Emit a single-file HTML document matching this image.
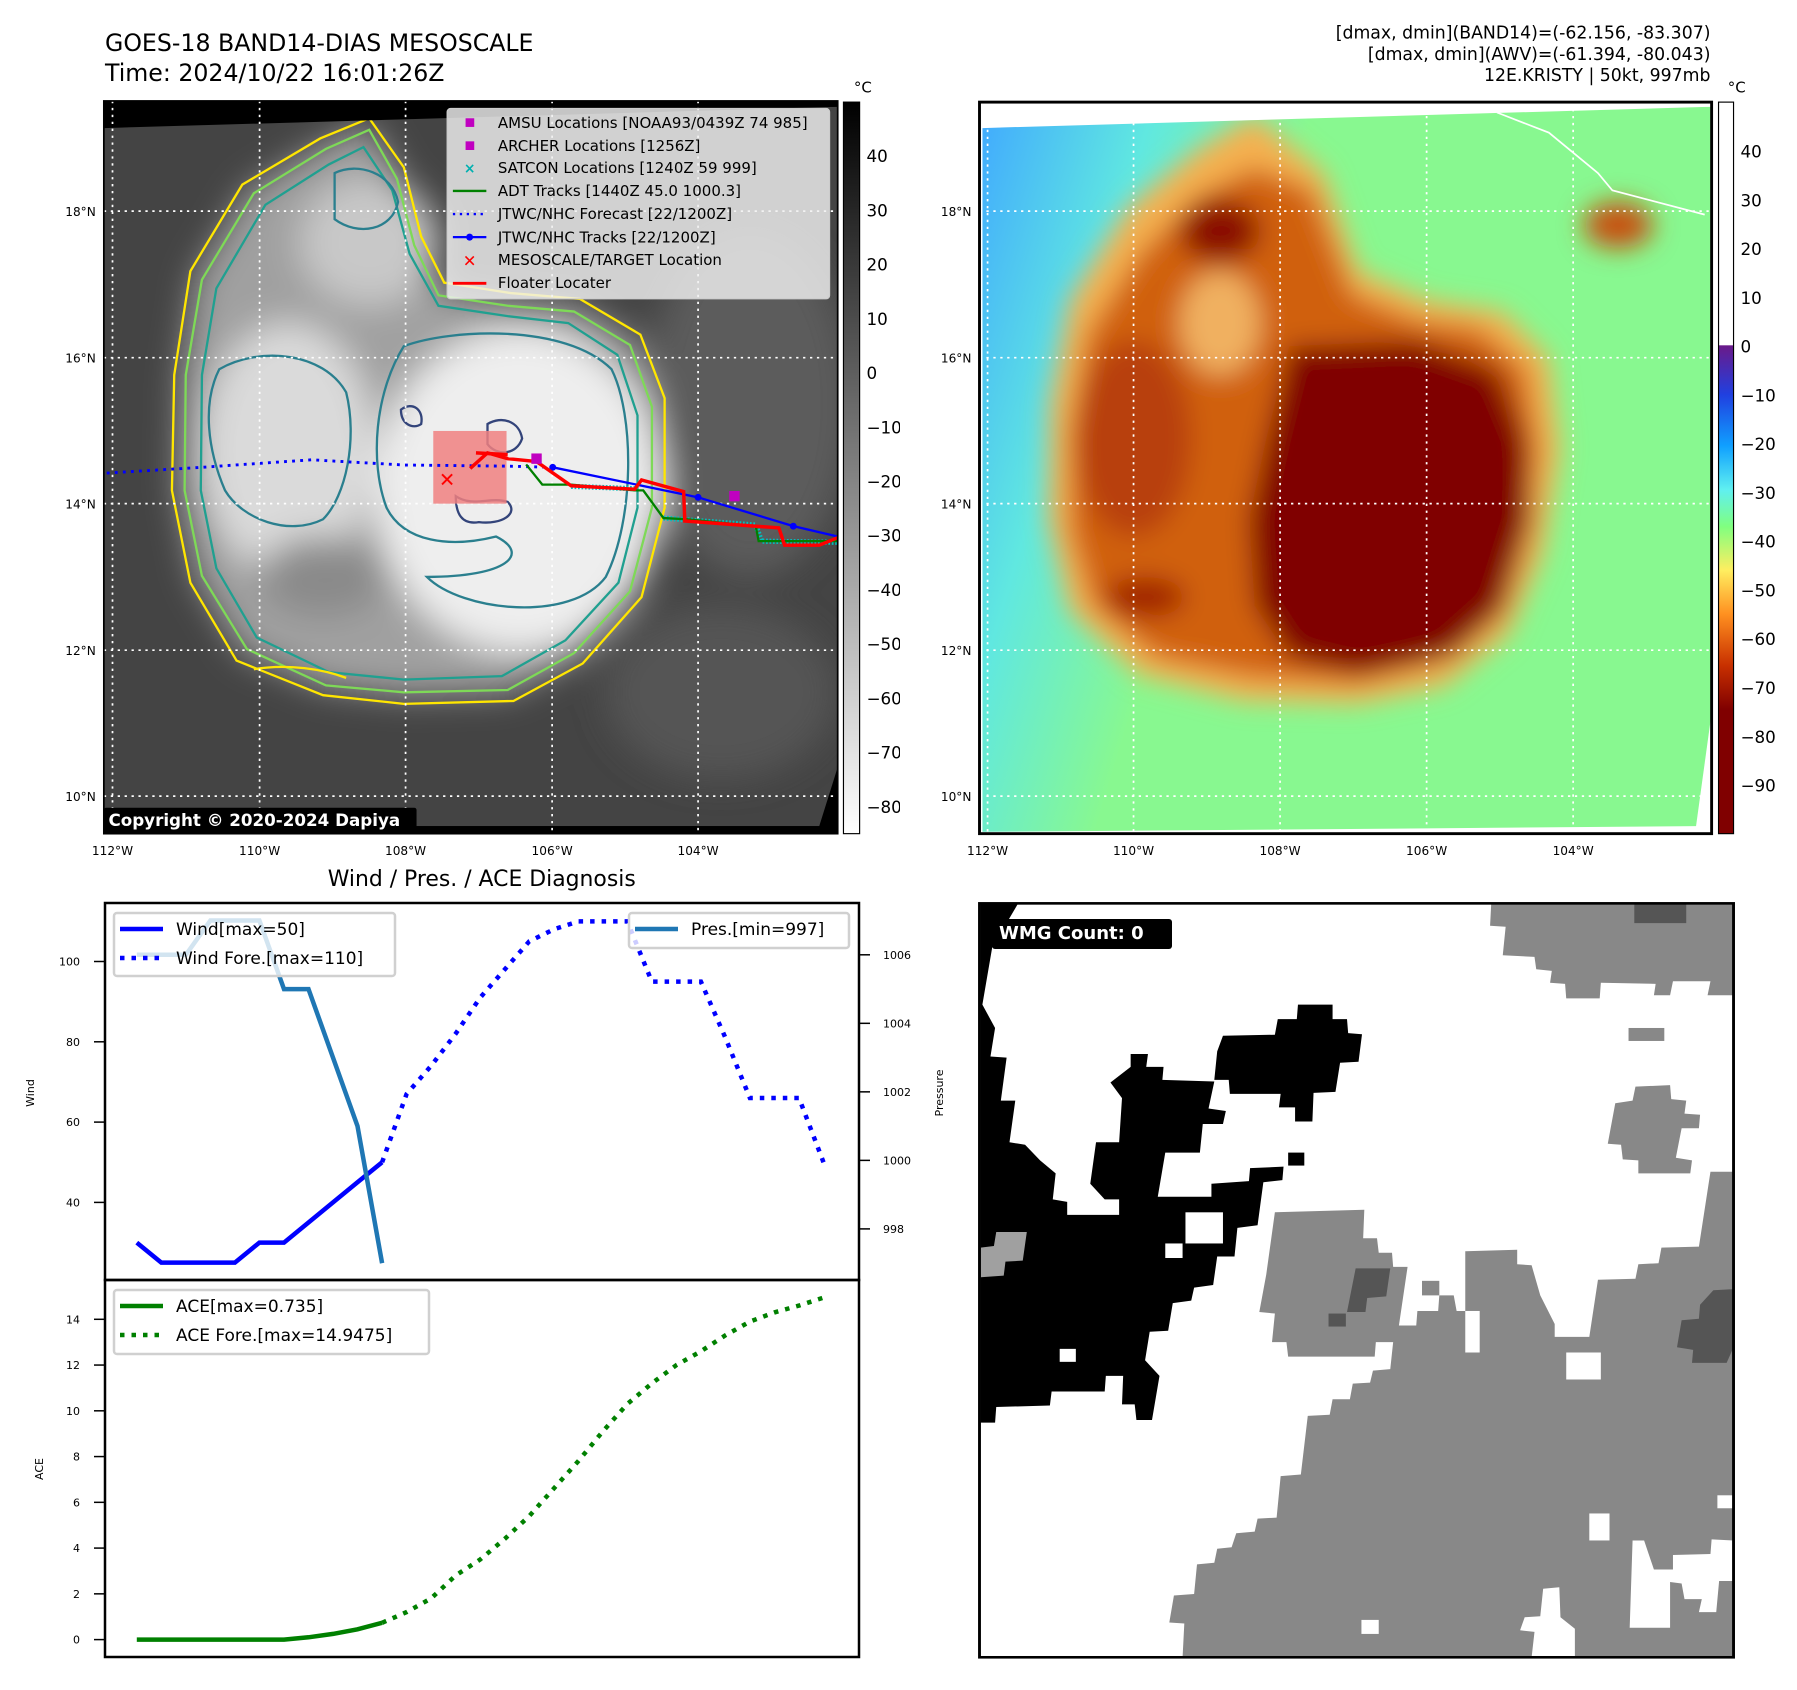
<!DOCTYPE html>
<html><head><meta charset="utf-8">
<style>
html,body{margin:0;padding:0;background:#fff;}
#root{position:relative;width:1797px;height:1690px;overflow:hidden;background:#fff;font-family:"Liberation Sans","DejaVu Sans",sans-serif;}
svg{position:absolute;display:block;}
text{font-family:"DejaVu Sans","Liberation Sans",sans-serif;}
</style></head>
<body>
<div id="root">

<!-- LEFT MAP (zoom coords 1560 = 900px) -->
<svg style="left:0;top:0" width="900" height="900" viewBox="0 0 1560 1560">
 <defs>
  <filter id="bl" x="-20%" y="-20%" width="140%" height="140%"><feGaussianBlur stdDeviation="30"/></filter>
  <clipPath id="mc"><polygon points="180,222 1452,185 1452,1330 1420,1432 180,1432"/></clipPath>
  <linearGradient id="cbg" x1="0" y1="0" x2="0" y2="1"><stop offset="0" stop-color="#000"/><stop offset="1" stop-color="#fff"/></linearGradient>
 </defs>
 <text x="182" y="88" font-size="41">GOES-18 BAND14-DIAS MESOSCALE</text>
 <text x="182" y="140" font-size="41">Time: 2024/10/22 16:01:26Z</text>
 <rect x="180" y="175" width="1272" height="1270" fill="#000"/>
 <g clip-path="url(#mc)">
  <rect x="180" y="180" width="1280" height="1260" fill="#444"/>
  <g filter="url(#bl)">
   <ellipse cx="1300" cy="700" rx="180" ry="300" fill="#5c5c5c"/>
   <ellipse cx="1250" cy="1200" rx="200" ry="150" fill="#555"/>
   <path d="M640,215 L560,250 430,330 340,480 315,650 310,850 340,1000 420,1130 560,1190 700,1205 880,1200 1000,1140 1100,1030 1140,880 1140,700 1100,590 1000,530 880,520 760,500 720,420 690,300 Z" fill="#a0a0a0"/>
   <ellipse cx="900" cy="850" rx="250" ry="280" fill="#eeeeee"/>
   <ellipse cx="500" cy="780" rx="150" ry="220" fill="#dadada"/>
   <ellipse cx="640" cy="420" rx="120" ry="110" fill="#c8c8c8"/>
   <ellipse cx="560" cy="1000" rx="110" ry="70" fill="#8a8a8a"/>
  </g>
  <g fill="none" stroke-width="4">
   <path d="M640,205 L555,240 420,320 330,470 302,650 298,850 330,1010 410,1145 560,1205 700,1220 890,1215 1010,1150 1112,1035 1152,880 1152,690 1110,580 1005,518 885,508 770,490 730,410 700,290 Z" stroke="#ffe600"/>
   <path d="M640,225 L565,258 440,335 350,485 322,650 320,850 350,998 428,1125 565,1188 700,1200 880,1196 995,1132 1092,1025 1130,880 1130,705 1092,598 995,540 880,530 760,512 718,425 688,310 Z" stroke="#7ed957"/>
   <path d="M630,255 L570,285 460,355 375,500 350,650 348,850 375,985 445,1105 570,1165 700,1178 870,1172 980,1110 1072,1010 1105,880 1105,720 1070,615 985,560 880,548 760,530 710,440 680,330 Z" stroke="#20a090"/>
   <path d="M700,600 C780,570 980,560 1060,640 C1100,720 1100,900 1050,1000 C990,1080 800,1060 740,1000 C880,1000 920,960 860,930 C780,950 700,940 670,880 C640,800 650,680 700,600 Z" stroke="#2a7f8e"/>
   <path d="M380,640 C450,600 560,610 600,680 C620,760 600,860 560,900 C500,930 420,900 390,850 C360,780 350,700 380,640 Z" stroke="#2a7f8e"/>
   <path d="M580,300 C620,280 680,300 690,350 C680,400 620,410 580,380 Z" stroke="#2a7f8e"/>
   <path d="M845,735 C870,720 900,730 905,760 C895,790 860,790 845,770 Z" stroke="#33447a"/>
   <path d="M695,710 C715,695 735,710 730,735 C715,745 695,735 695,710 Z" stroke="#33447a"/>
   <path d="M790,860 C820,880 850,860 880,870 C900,890 870,910 830,905 C800,910 790,890 790,860 Z" stroke="#33447a"/>
   <path d="M440,1160 C500,1150 560,1160 600,1175" stroke="#ffe600"/>
  </g>
 </g>
 <g stroke="#fff" stroke-width="3" stroke-dasharray="4,8" fill="none">
  <line x1="195" y1="175" x2="195" y2="1445"/><line x1="450" y1="175" x2="450" y2="1445"/><line x1="703" y1="175" x2="703" y2="1445"/><line x1="957" y1="175" x2="957" y2="1445"/><line x1="1210" y1="175" x2="1210" y2="1445"/>
  <line x1="180" y1="366" x2="1452" y2="366"/><line x1="180" y1="620" x2="1452" y2="620"/><line x1="180" y1="873" x2="1452" y2="873"/><line x1="180" y1="1127" x2="1452" y2="1127"/><line x1="180" y1="1380" x2="1452" y2="1380"/>
 </g>
 <rect x="751" y="747" width="127" height="126" fill="#f08080" opacity="0.85"/>
 <polyline points="185,820 350,810 540,797 700,806 880,808 958,810" fill="none" stroke="#0000ff" stroke-width="5" stroke-dasharray="5,9"/>
 <polyline points="990,843 1100,847" fill="none" stroke="#00c0c0" stroke-width="9" stroke-dasharray="3,3"/>
 <polyline points="1150,898 1310,910 1320,938 1452,940" fill="none" stroke="#00c0c0" stroke-width="9" stroke-dasharray="3,3"/>
 <polyline points="912,805 940,840 990,840 1100,850 1115,850 1150,898 1190,900 1310,912 1315,938 1452,938" fill="none" stroke="#008000" stroke-width="4"/>
 <polyline points="958,810 1210,862 1375,912 1452,930" fill="none" stroke="#0000ff" stroke-width="4"/>
 <g fill="#0000ff"><circle cx="958" cy="810" r="6"/><circle cx="1210" cy="862" r="6"/><circle cx="1375" cy="912" r="6"/></g>
 <polyline points="815,812 845,785 880,795 930,800 990,842 1100,848 1112,832 1185,852 1187,903 1350,915 1360,945 1420,945 1452,932" fill="none" stroke="#ff0000" stroke-width="6"/>
 <line x1="825" y1="785" x2="880" y2="788" stroke="#ff0000" stroke-width="6"/>
 <text x="775" y="843" font-size="34" fill="#ff0000" font-weight="bold" text-anchor="middle">✕</text>
 <rect x="921" y="786" width="18" height="18" fill="#c000c0"/><rect x="1264" y="851" width="18" height="18" fill="#c000c0"/>
 <g>
  <rect x="775" y="188" width="663" height="330" fill="#f0f0f0" fill-opacity="0.82" stroke="#ccc" stroke-width="2" rx="6"/>
  <g font-size="26">
   <rect x="807" y="205" width="15" height="15" fill="#c000c0"/><text x="863" y="222">AMSU Locations [NOAA93/0439Z 74 985]</text>
   <rect x="807" y="245" width="15" height="15" fill="#c000c0"/><text x="863" y="262">ARCHER Locations [1256Z]</text>
   <text x="814" y="300" fill="#00b0b0" font-size="24" text-anchor="middle" font-weight="bold">×</text><text x="863" y="300">SATCON Locations [1240Z 59 999]</text>
   <line x1="785" y1="331" x2="843" y2="331" stroke="#008000" stroke-width="4"/><text x="863" y="340">ADT Tracks [1440Z 45.0 1000.3]</text>
   <line x1="785" y1="371" x2="843" y2="371" stroke="#0000ff" stroke-width="4" stroke-dasharray="4,8"/><text x="863" y="380">JTWC/NHC Forecast [22/1200Z]</text>
   <line x1="785" y1="411" x2="843" y2="411" stroke="#0000ff" stroke-width="4"/><circle cx="814" cy="411" r="6" fill="#0000ff"/><text x="863" y="420">JTWC/NHC Tracks [22/1200Z]</text>
   <text x="814" y="462" fill="#ff0000" font-size="28" text-anchor="middle" font-weight="bold">✕</text><text x="863" y="459">MESOSCALE/TARGET Location</text>
   <line x1="785" y1="491" x2="843" y2="491" stroke="#ff0000" stroke-width="5"/><text x="863" y="499">Floater Locater</text>
  </g>
 </g>
 <rect x="180" y="175" width="1272" height="1270" fill="none" stroke="#000" stroke-width="3"/>
 <rect x="180" y="1400" width="542" height="45" fill="#000" rx="4"/>
 <text x="188" y="1432" font-size="29" font-weight="bold" fill="#fff">Copyright © 2020-2024 Dapiya</text>
 <g font-size="21" text-anchor="end">
  <text x="166" y="374">18°N</text><text x="166" y="628">16°N</text><text x="166" y="881">14°N</text><text x="166" y="1135">12°N</text><text x="166" y="1388">10°N</text>
 </g>
 <g font-size="21" text-anchor="middle">
  <text x="195" y="1482">112°W</text><text x="450" y="1482">110°W</text><text x="703" y="1482">108°W</text><text x="957" y="1482">106°W</text><text x="1210" y="1482">104°W</text>
 </g>
 <rect x="1462" y="177" width="28" height="1268" fill="url(#cbg)" stroke="#000" stroke-width="2"/>
 <text x="1480" y="160" font-size="26">°C</text>
 <g font-size="29">
  <text x="1502" y="281">40</text><text x="1502" y="375">30</text><text x="1502" y="469">20</text><text x="1502" y="563">10</text><text x="1502" y="657">0</text>
  <text x="1502" y="751">−10</text><text x="1502" y="845">−20</text><text x="1502" y="939">−30</text><text x="1502" y="1033">−40</text><text x="1502" y="1127">−50</text><text x="1502" y="1221">−60</text><text x="1502" y="1315">−70</text><text x="1502" y="1409">−80</text>
 </g>
 <text x="835" y="1536" font-size="38" text-anchor="middle">Wind / Pres. / ACE Diagnosis</text>
</svg>

<!-- RIGHT MAP (offset 897) -->
<svg style="left:897px;top:0" width="900" height="900" viewBox="0 0 1560 1560">
 <defs>
  <filter id="rb" x="-20%" y="-20%" width="140%" height="140%"><feGaussianBlur stdDeviation="22"/></filter>
  <clipPath id="rc"><polygon points="148,222 1410,185 1410,1250 1385,1432 148,1442"/></clipPath>
  <linearGradient id="lg" x1="0" y1="0" x2="1" y2="0.3"><stop offset="0" stop-color="#40a8ff"/><stop offset="0.22" stop-color="#60e8e0"/><stop offset="0.42" stop-color="#88f890"/><stop offset="1" stop-color="#88f890"/></linearGradient>
  <linearGradient id="cb2" x1="0" y1="0" x2="0" y2="1">
   <stop offset="0" stop-color="#fff"/><stop offset="0.332" stop-color="#fff"/><stop offset="0.333" stop-color="#6a1a8a"/>
   <stop offset="0.40" stop-color="#2040e0"/><stop offset="0.47" stop-color="#10a0ff"/><stop offset="0.53" stop-color="#60f0f0"/>
   <stop offset="0.58" stop-color="#80ff80"/><stop offset="0.64" stop-color="#ffee60"/><stop offset="0.70" stop-color="#ff9020"/>
   <stop offset="0.77" stop-color="#c83000"/><stop offset="0.83" stop-color="#800000"/><stop offset="1" stop-color="#800000"/>
  </linearGradient>
 </defs>
 <g font-size="30" text-anchor="end">
  <text x="1410" y="67">[dmax, dmin](BAND14)=(-62.156, -83.307)</text>
  <text x="1410" y="104">[dmax, dmin](AWV)=(-61.394, -80.043)</text>
  <text x="1410" y="140">12E.KRISTY | 50kt, 997mb</text>
 </g>
 <rect x="143" y="177" width="1269" height="1268" fill="#fff"/>
 <g clip-path="url(#rc)">
  <rect x="140" y="180" width="1280" height="1270" fill="url(#lg)"/>
  <g filter="url(#rb)">
   <path d="M620,200 L520,260 400,360 300,520 265,700 262,900 300,1060 420,1170 600,1215 800,1220 950,1190 1060,1100 1120,960 1150,780 1130,620 1050,540 920,520 800,470 740,300 Z" fill="#f5b050"/>
   <path d="M620,290 L520,340 420,440 330,580 300,750 300,920 340,1050 450,1140 620,1175 800,1185 930,1150 1030,1070 1090,930 1110,780 1090,640 1010,570 900,555 790,510 720,330 Z" fill="#d06010"/>
   <path d="M680,600 L900,590 1040,640 1090,760 1100,900 1050,1060 960,1140 800,1170 680,1140 620,1050 610,900 640,760 Z" fill="#800000"/>
   <ellipse cx="560" cy="400" rx="70" ry="55" fill="#8a0a00"/>
   <ellipse cx="410" cy="760" rx="100" ry="170" fill="#b84010"/>
   <ellipse cx="430" cy="1035" rx="70" ry="35" fill="#a02000"/>
   <ellipse cx="1250" cy="390" rx="60" ry="40" fill="#c85010"/>
   <ellipse cx="560" cy="560" rx="70" ry="90" fill="#f0b060"/>
  </g>
 </g>
 <g stroke="#fff" stroke-width="3" stroke-dasharray="4,8" fill="none">
  <line x1="157" y1="177" x2="157" y2="1445"/><line x1="410" y1="177" x2="410" y2="1445"/><line x1="664" y1="177" x2="664" y2="1445"/><line x1="918" y1="177" x2="918" y2="1445"/><line x1="1172" y1="177" x2="1172" y2="1445"/>
  <line x1="143" y1="366" x2="1412" y2="366"/><line x1="143" y1="620" x2="1412" y2="620"/><line x1="143" y1="873" x2="1412" y2="873"/><line x1="143" y1="1127" x2="1412" y2="1127"/><line x1="143" y1="1380" x2="1412" y2="1380"/>
 </g>
 <polyline points="1040,195 1130,230 1215,300 1240,330 1400,372" fill="none" stroke="#fff" stroke-width="3"/>
 <rect x="143" y="177" width="1269" height="1268" fill="none" stroke="#000" stroke-width="5"/>
 <g font-size="21" text-anchor="end">
  <text x="129" y="374">18°N</text><text x="129" y="628">16°N</text><text x="129" y="881">14°N</text><text x="129" y="1135">12°N</text><text x="129" y="1388">10°N</text>
 </g>
 <g font-size="21" text-anchor="middle">
  <text x="157" y="1482">112°W</text><text x="410" y="1482">110°W</text><text x="664" y="1482">108°W</text><text x="918" y="1482">106°W</text><text x="1172" y="1482">104°W</text>
 </g>
 <rect x="1424" y="177" width="26" height="1268" fill="url(#cb2)" stroke="#000" stroke-width="2"/>
 <text x="1440" y="160" font-size="26">°C</text>
 <g font-size="29">
  <text x="1462" y="273">40</text><text x="1462" y="358">30</text><text x="1462" y="442">20</text><text x="1462" y="527">10</text><text x="1462" y="611">0</text>
  <text x="1462" y="696">−10</text><text x="1462" y="780">−20</text><text x="1462" y="865">−30</text><text x="1462" y="949">−40</text><text x="1462" y="1034">−50</text><text x="1462" y="1118">−60</text><text x="1462" y="1203">−70</text><text x="1462" y="1288">−80</text><text x="1462" y="1372">−90</text>
 </g>
</svg>

<!-- WMG panel -->
<svg style="left:897px;top:880px" width="900" height="810" viewBox="0 0 1560 1560" preserveAspectRatio="none">
 <rect x="143" y="45" width="1307" height="1452" fill="#fff"/>
 <g fill="#888888">
  <polygon points="1030,45 1450,45 1450,222 1405,222 1410,195 1345,195 1340,222 1312,222 1315,200 1220,198 1218,228 1160,228 1158,200 1132,198 1135,175 1108,172 1105,148 1050,145 1055,90 1028,88"/>
  <rect x="1268" y="285" width="62" height="25"/>
  <polygon points="1280,398 1340,395 1342,422 1368,425 1365,450 1392,452 1390,478 1360,478 1350,535 1378,540 1375,565 1285,565 1285,540 1258,538 1255,510 1232,508 1245,430 1275,425"/>
  <polygon points="1410,562 1450,562 1450,1497 495,1497 498,1432 472,1430 480,1378 515,1375 520,1318 550,1315 555,1288 580,1285 588,1258 620,1255 625,1230 658,1228 665,1148 700,1145 712,1032 750,1030 755,1000 785,1000 790,970 820,968 825,945 855,942 860,890 830,890 828,918 678,918 675,890 650,890 655,835 628,832 640,760 655,640 810,635 808,690 832,690 835,718 858,718 860,745 885,745 870,858 900,858 902,830 938,830 940,800 965,800 970,830 985,830 985,715 1075,712 1075,740 1100,742 1115,800 1140,855 1140,880 1200,880 1215,770 1280,768 1285,740 1320,738 1325,708 1390,706"/>
  <rect x="910" y="772" width="30" height="28"/>
 </g>
 <g fill="#fff">
  <rect x="1160" y="910" width="60" height="52"/><rect x="1200" y="1220" width="35" height="52"/><rect x="805" y="1425" width="30" height="27"/><rect x="1422" y="1185" width="28" height="25"/><rect x="985" y="830" width="25" height="80"/>
  <polygon points="1275,1272 1295,1272 1312,1328 1345,1328 1345,1300 1410,1298 1412,1270 1450,1272 1450,1350 1425,1350 1420,1410 1390,1410 1395,1385 1365,1385 1360,1355 1340,1352 1340,1440 1270,1440"/>
  <polygon points="1080,1445 1088,1420 1115,1418 1120,1365 1148,1362 1150,1420 1175,1442 1175,1497 1100,1497 1105,1448"/>
 </g>
 <g fill="#555">
  <rect x="1278" y="45" width="90" height="38"/>
  <polygon points="795,748 855,748 848,802 815,805 812,832 780,832"/>
  <rect x="748" y="835" width="30" height="25"/>
  <polygon points="1415,790 1450,788 1450,900 1438,930 1378,930 1380,905 1352,900 1360,848 1390,845 1392,818"/>
 </g>
 <g fill="#000">
  <polygon points="145,45 210,45 165,130 148,240 170,285 162,340 190,342 180,425 205,425 195,505 222,510 248,540 275,565 270,615 295,620 295,645 385,645 385,615 360,615 335,585 345,505 385,505 390,420 370,390 405,360 405,335 435,335 432,360 462,360 460,385 550,388 540,440 570,445 565,470 530,470 525,525 465,525 452,610 545,610 545,585 610,580 612,555 670,552 668,578 635,582 625,665 590,670 585,725 555,725 548,780 515,785 510,810 478,815 470,868 438,870 430,925 455,955 442,1040 415,1040 412,1010 390,1010 392,955 362,955 360,985 268,985 265,1012 172,1015 170,1045 145,1045"/>
  <polygon points="565,300 655,298 660,268 693,268 695,240 755,240 755,268 780,268 782,295 806,297 800,350 768,352 760,408 722,410 720,465 690,465 690,438 662,438 665,412 577,412 575,385 550,385 555,330"/>
  <rect x="678" y="525" width="28" height="25"/>
 </g>
 <g fill="#fff"><rect x="500" y="640" width="65" height="60"/><rect x="465" y="700" width="30" height="28"/><rect x="282" y="903" width="28" height="25"/></g>
 <polygon points="145,708 168,705 172,678 225,678 218,733 188,735 185,762 145,765" fill="#a0a0a0"/>
 <rect x="143" y="45" width="1307" height="1452" fill="none" stroke="#000" stroke-width="5"/>
</svg>
<div style="position:absolute;left:992px;top:919px;width:180px;height:30px;background:#000;border-radius:3px;color:#fff;font:bold 18px 'DejaVu Sans','Liberation Sans',sans-serif;line-height:30px;padding-left:7px;box-sizing:border-box;">WMG Count: 0</div>

<!-- CHARTS -->
<svg id="charts" style="left:0;top:0" width="1797" height="1690"></svg>

<script>
const obsIdx=[0,1,2,3,4,5,6,7,8,9,10];
const windObs=[30,25,25,25,25,30,30,35,40,45,50];
const foreIdx=[10,11,12,13,14,15,16,17,18,19,20,21,22,23,24,25,26,27,28];
const windFore=[50,67,74,82,91,98,105,108,110,110,110,95,95,95,81,66,66,66,50];
const presObs=[1006,1006,1006,1007,1007,1007,1005,1005,1003,1001,997];
const aceObs=[0,0,0,0,0,0,0,0.1,0.25,0.45,0.735];
const aceFore=[0.735,1.2,1.8,2.8,3.5,4.4,5.4,6.6,7.8,9.1,10.3,11.2,12.0,12.6,13.3,13.9,14.3,14.6,14.95];
const windTicks=[40,60,80,100];
const presTicks=[998,1000,1002,1004,1006];
const aceTicks=[0,2,4,6,8,10,12,14];

const NS='http://www.w3.org/2000/svg';
const svg=document.getElementById('charts');
const xS=i=>136.8+i*(823.5-136.8)/28;
const yW=v=>961.5+(100-v)*(1202.4-961.5)/60;
const yP=p=>954.8+(1006-p)*(1228.9-954.8)/8;
const yA=a=>1639.6-a*(1639.6-1319.3)/14;
function el(t,a,txt){const e=document.createElementNS(NS,t);for(const k in a)e.setAttribute(k,a[k]);if(txt!==undefined)e.textContent=txt;svg.appendChild(e);return e;}
function pts(xs,ys,fy){return xs.map((x,i)=>xS(x).toFixed(1)+','+fy(ys[i]).toFixed(1)).join(' ');}

let f1=el('rect',{x:105,y:903,width:754,height:377,fill:'none',stroke:'#000','stroke-width':2.5});


let f2=el('rect',{x:105,y:1280,width:754,height:377,fill:'none',stroke:'#000','stroke-width':2.5});



windTicks.forEach(v=>{const y=yW(v);el('line',{x1:94,y1:y,x2:105,y2:y,stroke:'#000','stroke-width':1.5});
 const t=el('text',{x:80,y:y+4,'font-size':11,'text-anchor':'end'},String(v));
 
 });
presTicks.forEach(v=>{const y=yP(v);el('line',{x1:859,y1:y,x2:870,y2:y,stroke:'#000','stroke-width':1.5});
 const t=el('text',{x:883,y:y+4,'font-size':11},String(v));
 
 });
aceTicks.forEach(v=>{const y=yA(v);el('line',{x1:94,y1:y,x2:105,y2:y,stroke:'#000','stroke-width':1.5});
 const t=el('text',{x:80,y:y+4,'font-size':11,'text-anchor':'end'},String(v));
 
 });
let l1=el('text',{x:0,y:0,'font-size':11,'text-anchor':'middle',transform:'translate(34,1093) rotate(-90)'},'Wind');


let l2=el('text',{x:0,y:0,'font-size':11,'text-anchor':'middle',transform:'translate(943,1093) rotate(-90)'},'Pressure');


let l3=el('text',{x:0,y:0,'font-size':11,'text-anchor':'middle',transform:'translate(43,1469) rotate(-90)'},'ACE');



let s1=el('polyline',{points:pts(obsIdx,windObs,yW),fill:'none',stroke:'#0000ff','stroke-width':4.5});


let s2=el('polyline',{points:pts(foreIdx,windFore,yW),fill:'none',stroke:'#0000ff','stroke-width':4.5,'stroke-dasharray':'4.5,7'});


let s3=el('polyline',{points:pts(obsIdx,presObs,yP),fill:'none',stroke:'#1f77b4','stroke-width':4.5});


let s4=el('polyline',{points:pts(obsIdx,aceObs,yA),fill:'none',stroke:'#008000','stroke-width':4.5});


let s5=el('polyline',{points:pts(foreIdx,aceFore,yA),fill:'none',stroke:'#008000','stroke-width':4.5,'stroke-dasharray':'4.5,7'});



function legend(name,x,y,w,h,items){
 const g=el('g',{});
 
 
 const r=document.createElementNS(NS,'rect');
 [['x',x],['y',y],['width',w],['height',h],['fill','#fff'],['fill-opacity','0.8'],['stroke','#d0d0d0'],['stroke-width',2.5],['rx',3]].forEach(a=>r.setAttribute(a[0],a[1]));g.appendChild(r);
 items.forEach((it,i)=>{const cy=y+16+i*29;
  const ln=document.createElementNS(NS,'line');
  [['x1',x+6],['x2',x+49],['y1',cy],['y2',cy],['stroke',it.c],['stroke-width',4.5]].forEach(a=>ln.setAttribute(a[0],a[1]));
  if(it.d)ln.setAttribute('stroke-dasharray','4.5,7');g.appendChild(ln);
  const t=document.createElementNS(NS,'text');t.setAttribute('x',x+62);t.setAttribute('y',cy+6);t.setAttribute('font-size',17);t.textContent=it.t;g.appendChild(t);});
}
legend('wind-legend',114,913,281,63,[{c:'#0000ff',t:'Wind[max=50]'},{c:'#0000ff',d:1,t:'Wind Fore.[max=110]'}]);
legend('pressure-legend',629,913,220,35,[{c:'#1f77b4',t:'Pres.[min=997]'}]);
legend('ace-legend',114,1290,315,64,[{c:'#008000',t:'ACE[max=0.735]'},{c:'#008000',d:1,t:'ACE Fore.[max=14.9475]'}]);
</script>
</div>
</body></html>
